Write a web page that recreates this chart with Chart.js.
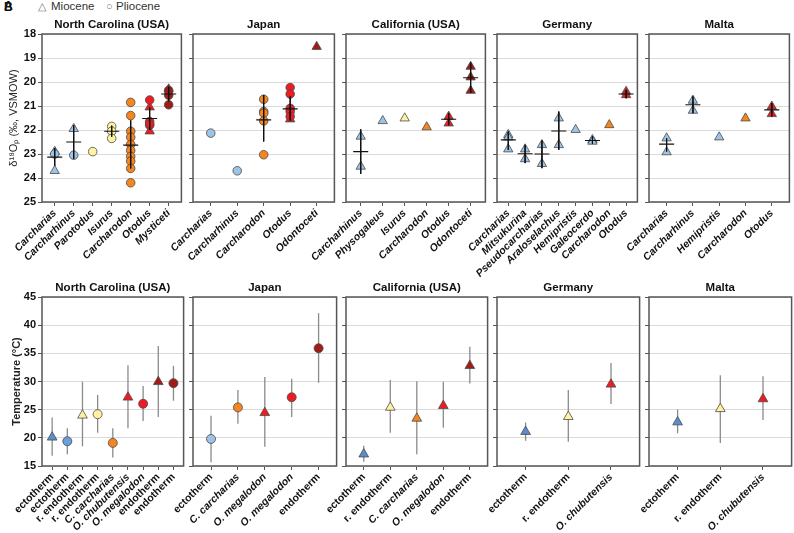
<!DOCTYPE html>
<html>
<head>
<meta charset="utf-8">
<script src="https://cdn.jsdelivr.net/npm/chart.js@4.4.1/dist/chart.umd.min.js"></script>
<style>
  body { margin: 0; background: #fff; width: 794px; height: 533px; position: relative; overflow: hidden; font-family: 'Liberation Sans', Arial, sans-serif; }
  canvas { position: absolute; }
  .txt { position: absolute; white-space: nowrap; }
</style>
</head>
<body>
<div class="txt" style="left:4px;top:0px;font-size:12px;font-weight:bold;color:#111">B</div>
<div class="txt" style="left:4px;top:-1px;font-size:12px;font-weight:bold;color:#111">A</div>
<div class="txt" style="left:38px;top:0px;font-size:11px;color:#777">△</div>
<div class="txt" style="left:51px;top:0px;font-size:11.5px;color:#333">Miocene</div>
<div class="txt" style="left:106px;top:0px;font-size:11px;color:#777">○</div>
<div class="txt" style="left:116px;top:0px;font-size:11.5px;color:#333">Pliocene</div>
<script>
// ---- oxygen isotopes (top row), values in ‰ ----
const ncTaxa = ['Carcharias', 'Carcharhinus', 'Parotodus', 'Isurus', 'Carcharodon', 'Otodus', 'Mysticeti'];
const ncMio = [[22.9, 23.7], [21.95], [], [], [], [21.05, 22.05], [20.3]];
const ncPlio = [[23.0], [23.05], [22.9], [21.85, 22.05, 22.35], [20.85, 21.4, 22.05, 22.3, 22.6, 22.85, 23.1, 23.3, 23.6, 24.2], [20.75, 21.65, 21.8, 21.75], [20.35, 20.55, 20.95]];
const ncMean = [23.13, 22.5, null, 22.05, 22.63, 21.52, 20.5];
const ncLo = [22.75, 21.8, null, 21.82, 21.6, 21.05, 20.2];
const ncHi = [23.5, 23.2, null, 22.28, 23.6, 22.0, 20.8];

const jpTaxa = ['Carcharias', 'Carcharhinus', 'Carcharodon', 'Otodus', 'Odontoceti'];
const jpMio = [[], [], [], [21.55], [18.53]];
const jpPlio = [[22.13], [23.7], [20.72, 21.23, 21.3, 21.62, 23.03], [20.23, 20.5, 21.1, 21.23, 21.44], []];
const jpMean = [null, null, 21.58, 21.12, null];
const jpLo = [null, null, 20.54, 20.6, null];
const jpHi = [null, null, 22.48, 21.6, null];

const caTaxa = ['Carcharhinus', 'Physogaleus', 'Isurus', 'Carcharodon', 'Otodus', 'Odontoceti'];
const caMio = [[22.27, 23.52], [21.62], [21.51], [21.88], [21.44, 21.72], [19.36, 19.8, 20.36]];
const caPlio = [[], [], [], [], [], []];
const caMean = [22.9, null, null, null, 21.55, 19.82];
const caLo = [21.97, null, null, null, 21.3, 19.2];
const caHi = [23.83, null, null, null, 21.8, 20.45];

const deTaxa = ['Carcharias', 'Mitsukurina', 'Pseudocarcharias', 'Araloselachus', 'Hemipristis', 'Galeocerdo', 'Carcharodon', 'Otodus'];
const deMio = [[22.2, 22.3, 22.8], [22.8, 23.21], [22.62, 23.41], [21.51, 22.62], [21.99], [22.41, 22.48], [21.79], [20.4, 20.54]];
const dePlio = [[], [], [], [], [], [], [], []];
const deMean = [22.41, 22.99, 23.0, 22.04, null, 22.44, null, 20.5];
const deLo = [22.06, 22.62, 22.44, 21.23, null, 22.27, null, 20.33];
const deHi = [22.83, 23.38, 23.59, 22.83, null, 22.58, null, 20.68];

const mtTaxa = ['Carcharias', 'Carcharhinus', 'Hemipristis', 'Carcharodon', 'Otodus'];
const mtMio = [[22.34, 22.92], [20.77, 21.19], [22.3], [21.51], [21.02, 21.33]];
const mtPlio = [[], [], [], [], []];
const mtMean = [22.59, 20.95, null, null, 21.16];
const mtLo = [22.34, 20.6, null, null, 20.88];
const mtHi = [22.9, 21.3, null, null, 21.44];

// ---- temperatures (bottom row), °C ----
const ncTempLabels = ['ectotherm', 'ectotherm', 'r. endotherm', 'r. endotherm', 'C. carcharias', 'O. chubutensis', 'O. megalodon', 'endotherm', 'endotherm'];
const ncTempEpoch = ['M', 'P', 'M', 'P', 'P', 'M', 'P', 'M', 'P'];
const ncTempColor = ['blueDark', 'blueMid', 'yellow', 'yellow', 'orange', 'red', 'red', 'darkred', 'darkred'];
const ncTemp = [20.1, 19.4, 24.0, 24.2, 19.1, 27.2, 26.05, 29.95, 29.7];
const ncTempLo = [16.8, 17.1, 18.5, 20.9, 16.5, 21.7, 23.0, 23.7, 26.6];
const ncTempHi = [23.6, 21.7, 29.95, 27.6, 21.7, 32.9, 29.2, 36.3, 32.8];

const jpTempLabels = ['ectotherm', 'C. carcharias', 'O. megalodon', 'O. megalodon', 'endotherm'];
const jpTempEpoch = ['P', 'P', 'M', 'P', 'P'];
const jpTempColor = ['blue', 'orange', 'red', 'red', 'darkred'];
const jpTemp = [19.8, 25.4, 24.45, 27.2, 35.9];
const jpTempLo = [15.65, 22.5, 18.4, 23.7, 29.8];
const jpTempHi = [23.9, 28.5, 30.8, 30.5, 42.1];

const caTempLabels = ['ectotherm', 'r. endotherm', 'C. carcharias', 'O. megalodon', 'endotherm'];
const caTempEpoch = ['M', 'M', 'M', 'M', 'M'];
const caTempColor = ['blueDark', 'yellow', 'orange', 'red', 'darkred'];
const caTemp = [17.1, 25.4, 23.45, 25.7, 32.8];
const caTempLo = [15.75, 20.9, 17.1, 21.8, 29.65];
const caTempHi = [18.6, 30.25, 30.05, 29.95, 36.15];

const deTempLabels = ['ectotherm', 'r. endotherm', 'O. chubutensis'];
const deTempEpoch = ['M', 'M', 'M'];
const deTempColor = ['blueDark', 'yellow', 'red'];
const deTemp = [21.1, 23.75, 29.5];
const deTempLo = [19.5, 19.3, 26.0];
const deTempHi = [22.7, 28.5, 33.3];

const mtTempLabels = ['ectotherm', 'r. endotherm', 'O. chubutensis'];
const mtTempEpoch = ['M', 'M', 'M'];
const mtTempColor = ['blueDark', 'yellow', 'red'];
const mtTemp = [22.8, 25.15, 26.9];
const mtTempLo = [20.8, 19.1, 23.15];
const mtTempHi = [25.05, 31.1, 30.95];

const COLORS = {
  blue: '#9dc3e6', blueMid: '#6b9fda', blueDark: '#5a8dcd',
  yellow: '#fff2a1', orange: '#f5861f', red: '#ed1c24', darkred: '#a01c17'
};
const taxonColor = name => ({ Parotodus: 'yellow', Isurus: 'yellow', Carcharodon: 'orange', Otodus: 'red', Mysticeti: 'darkred', Odontoceti: 'darkred' }[name] || 'blue');

Chart.defaults.font.family = "'Liberation Sans', Arial, sans-serif";
Chart.defaults.color = '#111';

// frame around each panel
const boxPlugin = {
  id: 'box',
  beforeDatasetsDraw(chart) {
    const { ctx, chartArea: a } = chart;
    ctx.save();
    ctx.strokeStyle = '#555';
    ctx.lineWidth = 1.5;
    ctx.strokeRect(a.left, a.top, a.right - a.left, a.bottom - a.top);
    ctx.restore();
  }
};

function errorBar(x, lo, hi, color, width) {
  return {
    data: [{ x: x, y: lo }, { x: x, y: hi }],
    showLine: true, pointRadius: 0, borderColor: color, borderWidth: width
  };
}

function isoDatasets(taxa, mio, plio, mean, lo, hi) {
  const sets = [];
  const means = [];
  taxa.forEach((t, i) => { if (mean[i] != null) means.push({ x: i + 1, y: mean[i] }); });
  sets.push({ data: means, pointStyle: 'line', pointRadius: 7.5, borderColor: '#111', pointBorderWidth: 1.1, backgroundColor: '#111' });
  taxa.forEach((t, i) => { if (lo[i] != null) sets.push(errorBar(i + 1, lo[i], hi[i], '#111', 1)); });
  [[plio, 'circle', 4.3], [mio, 'triangle', 5.4]].forEach(([vals, style, r]) => {
    const pts = [], cols = [];
    vals.forEach((list, i) => list.forEach(v => { pts.push({ x: i + 1, y: v }); cols.push(COLORS[taxonColor(taxa[i])]); }));
    sets.push({ data: pts, pointStyle: style, pointRadius: r, pointBackgroundColor: cols, pointBorderColor: '#4a4a4a', pointBorderWidth: 0.8 });
  });
  return sets;
}

function tempDatasets(labels, epoch, color, val, lo, hi) {
  const sets = [];
  sets.push({
    data: val.map((v, i) => ({ x: i + 1, y: v })),
    pointStyle: epoch.map(e => e === 'M' ? 'triangle' : 'circle'),
    pointRadius: epoch.map(e => e === 'M' ? 5.6 : 4.5),
    pointBackgroundColor: color.map(c => COLORS[c]),
    pointBorderColor: '#4a4a4a', pointBorderWidth: 0.8
  });
  val.forEach((v, i) => sets.push(errorBar(i + 1, lo[i], hi[i], '#8a8a8a', 1.3)));
  return sets;
}

function makePanel(p) {
  const n = p.labels.length;
  const L = p.first ? p.x0 : 60, R = 6, T = 24;
  const W = L + (p.x1 - p.x0) + R;
  const H = T + (p.y1 - p.y0) + p.bottom;
  const cv = document.createElement('canvas');
  cv.width = W; cv.height = H;
  cv.style.left = (p.x0 - L) + 'px';
  cv.style.top = (p.y0 - T) + 'px';
  cv.style.width = W + 'px'; cv.style.height = H + 'px';
  document.body.appendChild(cv);

  const italicLabel = s => !/therm/.test(s);
  new Chart(cv, {
    type: 'scatter',
    data: { datasets: p.datasets },
    options: {
      responsive: false,
      animation: false,
      devicePixelRatio: 1,
      layout: { padding: { left: 0, right: R, top: 0, bottom: 0 } },
      plugins: {
        legend: { display: false },
        tooltip: { enabled: false },
        title: {
          display: true, text: p.title, color: '#111', fullSize: false,
          font: { size: 11.5, weight: 'bold', lineHeight: 1.2 },
          padding: { top: 8, bottom: 2.2 }
        }
      },
      scales: {
        x: {
          type: 'linear', min: 0.33, max: n + 0.67,
          afterBuildTicks: s => { s.ticks = p.labels.map((_, i) => ({ value: i + 1 })); },
          afterFit: s => { s.height = p.bottom; },
          border: { display: false },
          grid: { drawOnChartArea: false, tickLength: 4, tickColor: '#555', lineWidth: 1 },
          ticks: {
            autoSkip: false, minRotation: 45, maxRotation: 45, padding: 1, color: '#111',
            callback: v => p.labels[Math.round(v) - 1],
            font: ctx => {
              const lab = p.labels[ctx.index] || '';
              return { size: 10.5, weight: 'bold', style: italicLabel(lab) ? 'italic' : 'normal' };
            }
          }
        },
        y: {
          type: 'linear', min: p.ymin, max: p.ymax, reverse: p.reverse,
          afterFit: s => { s.width = L; },
          border: { display: false },
          grid: { color: '#dadada', lineWidth: 1, tickLength: 4, tickColor: '#555' },
          ticks: {
            stepSize: p.step, padding: 2, color: '#111',
            font: { size: 11, weight: 'bold' },
            callback: v => p.first ? v : ''
          },
          title: {
            display: !!p.first, text: p.ytitle, color: '#222',
            font: { size: 11, weight: p.ytitleBold ? 'bold' : 'normal' },
            padding: { top: p.ytitlePad, bottom: p.ytitlePad }
          }
        }
      }
    },
    plugins: [boxPlugin]
  });
}

const cols = [[42, 184], [193, 337], [346, 488], [497, 640], [649, 792]];
const isoPanels = [
  ['North Carolina (USA)', ncTaxa, ncMio, ncPlio, ncMean, ncLo, ncHi],
  ['Japan', jpTaxa, jpMio, jpPlio, jpMean, jpLo, jpHi],
  ['California (USA)', caTaxa, caMio, caPlio, caMean, caLo, caHi],
  ['Germany', deTaxa, deMio, dePlio, deMean, deLo, deHi],
  ['Malta', mtTaxa, mtMio, mtPlio, mtMean, mtLo, mtHi]
];
isoPanels.forEach((d, k) => makePanel({
  title: d[0], labels: d[1], datasets: isoDatasets(d[1], d[2], d[3], d[4], d[5], d[6]),
  x0: cols[k][0], x1: cols[k][1], y0: 34, y1: 202, bottom: 80,
  ymin: 18, ymax: 25, step: 1, reverse: true, first: k === 0,
  ytitle: 'δ¹⁸Oₚ (‰, VSMOW)', ytitlePad: 7, ytitleBold: false
}));

const tempPanels = [
  ['North Carolina (USA)', ncTempLabels, ncTempEpoch, ncTempColor, ncTemp, ncTempLo, ncTempHi],
  ['Japan', jpTempLabels, jpTempEpoch, jpTempColor, jpTemp, jpTempLo, jpTempHi],
  ['California (USA)', caTempLabels, caTempEpoch, caTempColor, caTemp, caTempLo, caTempHi],
  ['Germany', deTempLabels, deTempEpoch, deTempColor, deTemp, deTempLo, deTempHi],
  ['Malta', mtTempLabels, mtTempEpoch, mtTempColor, mtTemp, mtTempLo, mtTempHi]
];
tempPanels.forEach((d, k) => makePanel({
  title: d[0], labels: d[1], datasets: tempDatasets(d[1], d[2], d[3], d[4], d[5], d[6]),
  x0: cols[k][0], x1: cols[k][1], y0: 297, y1: 466, bottom: 67,
  ymin: 15, ymax: 45, step: 5, reverse: false, first: k === 0,
  ytitle: 'Temperature (°C)', ytitlePad: 10, ytitleBold: true
}));
</script>
</body>
</html>
